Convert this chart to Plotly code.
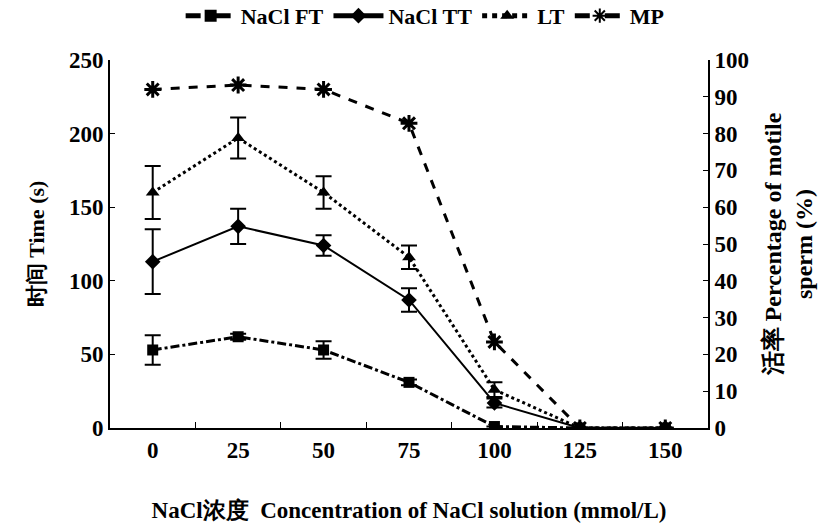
import plotly.graph_objects as go

# NaCl concentration (mmol/L)
conc = ["0", "25", "50", "75", "100", "125", "150"]

# Times (s) with standard errors
ft = [53, 62, 53, 31, 1, 0, 0]
ft_err = [10, 2, 6, 2, 0, 0, 0]
tt = [113, 137, 124, 87, 17, 0, 0]
tt_err = [22, 12, 7, 8, 3, 0, 0]
lt = [160, 197, 160, 116, 26, 0, 0]
lt_err = [18, 14, 11, 8, 5, 0, 0]

# Percentage of motile sperm (%)
mp = [92, 93.2, 92, 82.8, 23.4, 0, 0]

SERIF = "Liberation Serif"


def err(vals):
    return dict(type="data", array=vals, visible=True, color="black",
                thickness=2, width=8)


fig = go.Figure()
fig.add_trace(go.Scatter(
    x=conc, y=ft, name="NaCl FT", mode="lines+markers",
    line=dict(color="black", width=3, dash="dashdot"),
    marker=dict(symbol="square", size=11, color="black"),
    error_y=err(ft_err)))
fig.add_trace(go.Scatter(
    x=conc, y=tt, name="NaCl TT", mode="lines+markers",
    line=dict(color="black", width=2),
    marker=dict(symbol="diamond", size=12, color="black"),
    error_y=err(tt_err)))
fig.add_trace(go.Scatter(
    x=conc, y=lt, name="LT", mode="lines+markers",
    line=dict(color="black", width=3, dash="dot"),
    marker=dict(symbol="triangle-up", size=12, color="black"),
    error_y=err(lt_err)))
fig.add_trace(go.Scatter(
    x=conc, y=mp, name="MP", mode="lines+markers", yaxis="y2",
    line=dict(color="black", width=3, dash="dash"),
    marker=dict(symbol="asterisk-open", size=14, color="black",
                line=dict(color="black", width=3))))

fig.update_layout(
    width=822, height=529,
    margin=dict(l=110, r=114, t=60, b=101, autoexpand=False),
    plot_bgcolor="white", paper_bgcolor="white",
    font=dict(family=SERIF, size=22, color="black", weight="bold"),
    showlegend=True,
    legend=dict(orientation="h", x=0.527, xanchor="center", y=1.12,
                yanchor="middle", font=dict(size=22, family=SERIF),
                itemsizing="constant", bgcolor="rgba(0,0,0,0)",
                itemwidth=50, tracegroupgap=0),
    xaxis=dict(
        type="category", range=[-0.5, 6.5], showline=True, linecolor="black",
        linewidth=2, ticks="inside", tickson="boundaries", ticklen=6,
        tickcolor="black", showgrid=False, zeroline=False,
        tickfont=dict(size=23, family=SERIF), ticklabelstandoff=0,
        title=dict(text="NaCl浓度  Concentration of NaCl solution (mmol/L)",
                   font=dict(size=23, family=SERIF), standoff=40)),
    yaxis=dict(
        range=[0, 250], dtick=50, showline=True, linecolor="black",
        linewidth=2, ticks="inside", ticklen=5, tickcolor="black",
        showgrid=False, zeroline=False, tickfont=dict(size=23, family=SERIF),
        title=dict(text="时间 Time (s)", font=dict(size=22, family=SERIF),
                   standoff=18)),
    yaxis2=dict(
        range=[0, 100], dtick=10, overlaying="y", side="right",
        showline=True, linecolor="black", linewidth=2, ticks="inside",
        ticklen=5, tickcolor="black", showgrid=False, zeroline=False,
        tickfont=dict(size=23, family=SERIF),
        title=dict(text="活率 Percentage of motile<br>sperm (%)",
                   font=dict(size=24, family=SERIF), standoff=16)),
)

fig.write_html("out.html")
